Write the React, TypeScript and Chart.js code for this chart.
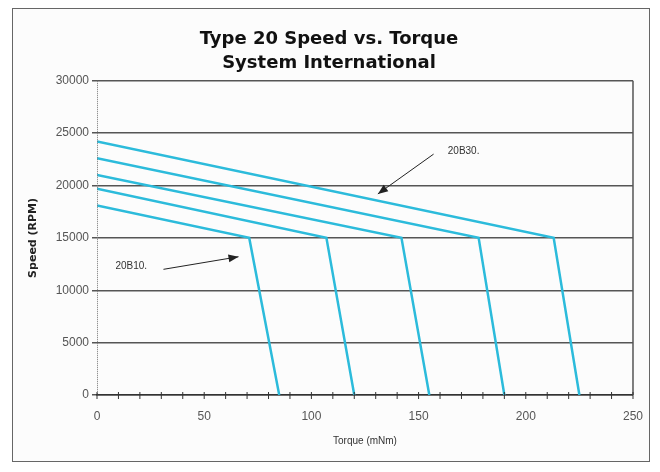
import React, { useEffect, useRef } from "react";
import { Chart, registerables } from "chart.js";

Chart.register(...registerables);

// Torque (mNm) breakpoints and Speed (RPM) for each motor curve
const seriesNames = ["20B10", "20B15", "20B20", "20B25", "20B30"];
const startSpeed = [18100, 19700, 21000, 22600, 24200];
const kneeTorque = [71, 107, 142, 178, 213];
const kneeSpeed = [15000, 15000, 15000, 15000, 15000];
const stallTorque = [85, 120, 155, 190, 225];
const stallSpeed = [0, 0, 0, 0, 0];

const xTicks = [0, 50, 100, 150, 200, 250];
const yTicks = [0, 5000, 10000, 15000, 20000, 25000, 30000];

const LINE_COLOR = "#2cbbdb";
const GRID_COLOR = "#555555";

const annotations = [
  { text: "20B10.", tx: 16, ty: 12300, from: [31, 12000], to: [66, 13200] },
  { text: "20B30.", tx: 171, ty: 23300, from: [157, 23000], to: [131, 19200] },
];

const overlay = {
  id: "overlay",
  afterDraw(chart: any) {
    const { ctx, chartArea } = chart;
    const xs = chart.scales.x;
    const ys = chart.scales.y;
    ctx.save();
    // right border
    ctx.strokeStyle = GRID_COLOR;
    ctx.lineWidth = 1.5;
    ctx.beginPath();
    ctx.moveTo(chartArea.right, chartArea.top);
    ctx.lineTo(chartArea.right, chartArea.bottom);
    ctx.stroke();
    // dotted left axis line
    ctx.strokeStyle = "#777";
    ctx.lineWidth = 1;
    ctx.setLineDash([1, 1]);
    ctx.beginPath();
    ctx.moveTo(chartArea.left + 0.5, chartArea.top);
    ctx.lineTo(chartArea.left + 0.5, chartArea.bottom);
    ctx.stroke();
    ctx.setLineDash([]);
    // minor ticks crossing x axis
    ctx.lineWidth = 1;
    ctx.strokeStyle = "#333";
    for (let v = 0; v <= 250; v += 10) {
      const px = xs.getPixelForValue(v);
      ctx.beginPath();
      ctx.moveTo(px, chartArea.bottom - 3);
      ctx.lineTo(px, chartArea.bottom + 4);
      ctx.stroke();
    }
    // annotations
    ctx.font = "10px 'Liberation Sans', Arial, sans-serif";
    ctx.fillStyle = "#333";
    ctx.textAlign = "center";
    ctx.textBaseline = "middle";
    for (const a of annotations) {
      ctx.fillText(a.text, xs.getPixelForValue(a.tx), ys.getPixelForValue(a.ty));
      const x1 = xs.getPixelForValue(a.from[0]);
      const y1 = ys.getPixelForValue(a.from[1]);
      const x2 = xs.getPixelForValue(a.to[0]);
      const y2 = ys.getPixelForValue(a.to[1]);
      ctx.strokeStyle = "#222";
      ctx.lineWidth = 1;
      ctx.beginPath();
      ctx.moveTo(x1, y1);
      ctx.lineTo(x2, y2);
      ctx.stroke();
      const ang = Math.atan2(y2 - y1, x2 - x1);
      const L = 10, W = 4;
      ctx.beginPath();
      ctx.moveTo(x2, y2);
      ctx.lineTo(x2 - L * Math.cos(ang) + W * Math.sin(ang), y2 - L * Math.sin(ang) - W * Math.cos(ang));
      ctx.lineTo(x2 - L * Math.cos(ang) - W * Math.sin(ang), y2 - L * Math.sin(ang) + W * Math.cos(ang));
      ctx.closePath();
      ctx.fillStyle = "#222";
      ctx.fill();
      ctx.fillStyle = "#333";
    }
    ctx.restore();
  },
};

export default function App() {
  const ref = useRef<HTMLCanvasElement>(null);
  useEffect(() => {
    if (!ref.current) return;
    const datasets = seriesNames.map((name, i) => ({
      label: name,
      data: [
        { x: 0, y: startSpeed[i] },
        { x: kneeTorque[i], y: kneeSpeed[i] },
        { x: stallTorque[i], y: stallSpeed[i] },
      ],
      borderColor: LINE_COLOR,
      backgroundColor: LINE_COLOR,
      borderWidth: 2.5,
      pointRadius: 0,
      showLine: true,
      tension: 0,
    }));
    const chart = new Chart(ref.current, {
      type: "scatter",
      data: { datasets },
      plugins: [overlay],
      options: {
        animation: false,
        responsive: true,
        maintainAspectRatio: false,
        layout: { padding: { left: 10, right: 14, top: 10, bottom: 10 } },
        plugins: {
          legend: { display: false },
          tooltip: { enabled: false },
          title: {
            display: true,
            text: ["Type 20 Speed vs. Torque", "System International"],
            color: "#111",
            font: { family: "'DejaVu Sans', Verdana, sans-serif", size: 18, weight: "bold", lineHeight: 1.3 },
            padding: { top: 9, bottom: 6 },
          },
        },
        scales: {
          x: {
            type: "linear",
            min: 0,
            max: 250,
            afterBuildTicks: (s: any) => {
              s.ticks = xTicks.map((v) => ({ value: v }));
            },
            afterFit: (s: any) => {
              s.height = 56;
            },
            ticks: {
              color: "#555",
              font: { family: "'Liberation Sans', Arial, sans-serif", size: 12 },
              padding: 6,
              maxRotation: 0,
              callback: (v: any) => String(v),
            },
            grid: { display: false },
            border: { display: true, color: "#333", width: 1.5 },
            title: {
              display: true,
              text: "Torque (mNm)",
              color: "#333",
              font: { family: "'Liberation Sans', Arial, sans-serif", size: 10 },
              padding: { top: 6 },
            },
          },
          y: {
            type: "linear",
            min: 0,
            max: 30000,
            afterBuildTicks: (s: any) => {
              s.ticks = yTicks.map((v) => ({ value: v }));
            },
            afterFit: (s: any) => {
              s.width = 74;
            },
            ticks: {
              color: "#555",
              font: { family: "'Liberation Sans', Arial, sans-serif", size: 12 },
              padding: 3,
              callback: (v: any) => String(v),
            },
            grid: {
              color: GRID_COLOR,
              lineWidth: 1.5,
              tickLength: 5,
            },
            border: { display: false },
            title: {
              display: true,
              text: "Speed (RPM)",
              color: "#222",
              font: { family: "'DejaVu Sans', Verdana, sans-serif", size: 11, weight: "bold" },
              padding: { bottom: 2 },
            },
          },
        },
      },
    });
    return () => chart.destroy();
  }, []);
  return (
    <div
      style={{
        width: 636,
        height: 452,
        border: "1px solid #666",
        marginLeft: 4,
        background: "#fcfcfc",
        position: "relative",
      }}
    >
      <canvas ref={ref} />
    </div>
  );
}
